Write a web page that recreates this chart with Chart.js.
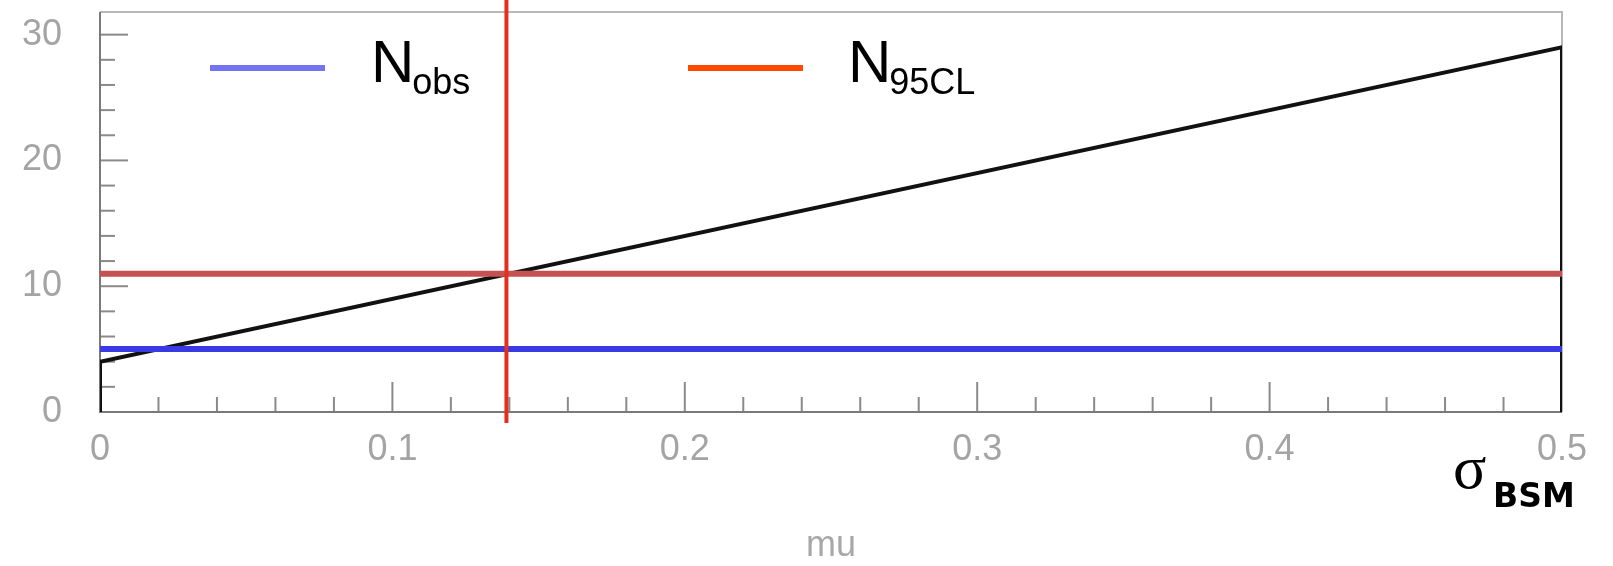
<!DOCTYPE html>
<html>
<head>
<meta charset="utf-8">
<script src="https://cdn.jsdelivr.net/npm/chart.js@4"></script>
<style>
  body { margin: 0; background: #fff; }
  #wrap { width: 1613px; height: 566px; position: relative; }
</style>
</head>
<body>
<div id="wrap"><canvas id="limitChart"></canvas></div>
<script>
// expected signal count vs cross section (histogram outline)
const muValues = [0, 0, 0.5, 0.5];
const nExpected = [0, 4, 29, 0];
// horizontal reference levels
const nObs = 5;
const n95CL = 11;
// where the expected count crosses N95CL
const crossMu = 0.139;
// axes
const xTicks = [0, 0.1, 0.2, 0.3, 0.4, 0.5];
const yTicks = [0, 10, 20, 30];
const legendMain = ['N', 'N'];
const legendSub = ['obs', '95CL'];

const tickFont = { family: 'Liberation Sans', size: 36 };

// frame, inner ticks, crossing line, legend and sigma label
const decorations = {
    id: 'decorations',
    beforeDatasetsDraw(chart) {
        const { ctx, chartArea: a, scales: { x, y } } = chart;
        ctx.save();
        ctx.strokeStyle = '#8a8a8a';
        ctx.lineWidth = 2;
        // minor + major ticks, drawn inward
        for (let i = 0; i <= 25; i++) {
            const px = x.getPixelForValue(i * 0.02);
            const len = i % 5 === 0 ? 30 : 15;
            ctx.beginPath();
            ctx.moveTo(px, a.bottom);
            ctx.lineTo(px, a.bottom - len);
            ctx.stroke();
        }
        for (let i = 0; i <= 15; i++) {
            const py = y.getPixelForValue(i * 2);
            const len = i % 5 === 0 ? 28 : 15;
            ctx.beginPath();
            ctx.moveTo(a.left, py);
            ctx.lineTo(a.left + len, py);
            ctx.stroke();
        }
        // frame
        ctx.strokeStyle = '#b8b8b8';
        ctx.beginPath();
        ctx.moveTo(a.left, a.top);
        ctx.lineTo(a.right, a.top);
        ctx.lineTo(a.right, a.bottom);
        ctx.stroke();
        ctx.strokeStyle = '#7a7a7a';
        ctx.beginPath();
        ctx.moveTo(a.left, a.top);
        ctx.lineTo(a.left, a.bottom);
        ctx.lineTo(a.right, a.bottom);
        ctx.stroke();
        ctx.restore();
    },
    afterDatasetsDraw(chart) {
        const { ctx, chartArea: a, scales: { x } } = chart;
        ctx.save();
        // vertical line at the crossing point
        const cx = x.getPixelForValue(crossMu);
        ctx.strokeStyle = '#e2301c';
        ctx.lineWidth = 4;
        ctx.beginPath();
        ctx.moveTo(cx, 0);
        ctx.lineTo(cx, a.bottom + 11);
        ctx.stroke();

        // legend
        const items = [
            { color: '#7474f2', x0: 210, x1: 325, tx: 371 },
            { color: '#ff4a00', x0: 688, x1: 803, tx: 848 }
        ];
        items.forEach((it, i) => {
            ctx.strokeStyle = it.color;
            ctx.lineWidth = 6;
            ctx.beginPath();
            ctx.moveTo(it.x0, 68);
            ctx.lineTo(it.x1, 68);
            ctx.stroke();
            ctx.fillStyle = '#000';
            ctx.textBaseline = 'alphabetic';
            ctx.textAlign = 'left';
            ctx.font = '60px "Liberation Sans"';
            ctx.fillText(legendMain[i], it.tx, 82);
            const w = ctx.measureText(legendMain[i]).width;
            ctx.font = '36px "Liberation Sans"';
            ctx.fillText(legendSub[i], it.tx + w - 2, 94);
        });

        // sigma_BSM label
        ctx.fillStyle = '#000';
        ctx.font = '62px "Liberation Serif"';
        ctx.fillText('σ', 1453, 488);
        ctx.font = 'bold 33px "DejaVu Sans"';
        ctx.fillText('BSM', 1493, 507);
        ctx.restore();
    }
};

const ctxLimit = document.getElementById('limitChart').getContext('2d');
new Chart(ctxLimit, {
    type: 'line',
    data: {
        datasets: [
            {
                label: 'N95CL',
                data: [{ x: 0, y: n95CL }, { x: 0.5, y: n95CL }],
                borderColor: '#c45252',
                borderWidth: 6,
                pointRadius: 0
            },
            {
                label: 'Nobs',
                data: [{ x: 0, y: nObs }, { x: 0.5, y: nObs }],
                borderColor: '#3a3ae4',
                borderWidth: 6,
                pointRadius: 0
            },
            {
                label: 'expected',
                data: muValues.map((m, i) => ({ x: m, y: nExpected[i] })),
                borderColor: '#111',
                borderWidth: 4,
                pointRadius: 0,
                tension: 0
            }
        ]
    },
    options: {
        responsive: true,
        maintainAspectRatio: false,
        animation: false,
        layout: { autoPadding: false, padding: { top: 12, right: 51, left: 0, bottom: 0 } },
        plugins: { legend: { display: false }, tooltip: { enabled: false } },
        scales: {
            x: {
                type: 'linear',
                min: 0,
                max: 0.5,
                grid: { display: false, drawTicks: false },
                border: { display: false },
                afterBuildTicks: s => { s.ticks = xTicks.map(v => ({ value: v })); },
                afterFit: s => { s.height = 154; s.paddingLeft = 0; s.paddingRight = 0; },
                ticks: { font: tickFont, color: '#a4a4a4', padding: 16, maxRotation: 0 },
                title: {
                    display: true,
                    text: 'mu',
                    font: { family: 'Liberation Sans', size: 36, lineHeight: 1 },
                    color: '#a8a8a8',
                    padding: { top: 0, bottom: 2 }
                }
            },
            y: {
                type: 'linear',
                min: 0,
                max: 31.8,
                grid: { display: false, drawTicks: false },
                border: { display: false },
                afterBuildTicks: s => { s.ticks = yTicks.map(v => ({ value: v })); },
                afterFit: s => { s.width = 100; s.paddingTop = 0; s.paddingBottom = 0; },
                ticks: { font: tickFont, color: '#a4a4a4', padding: 38 }
            }
        }
    },
    plugins: [decorations]
});
</script>
</body>
</html>
